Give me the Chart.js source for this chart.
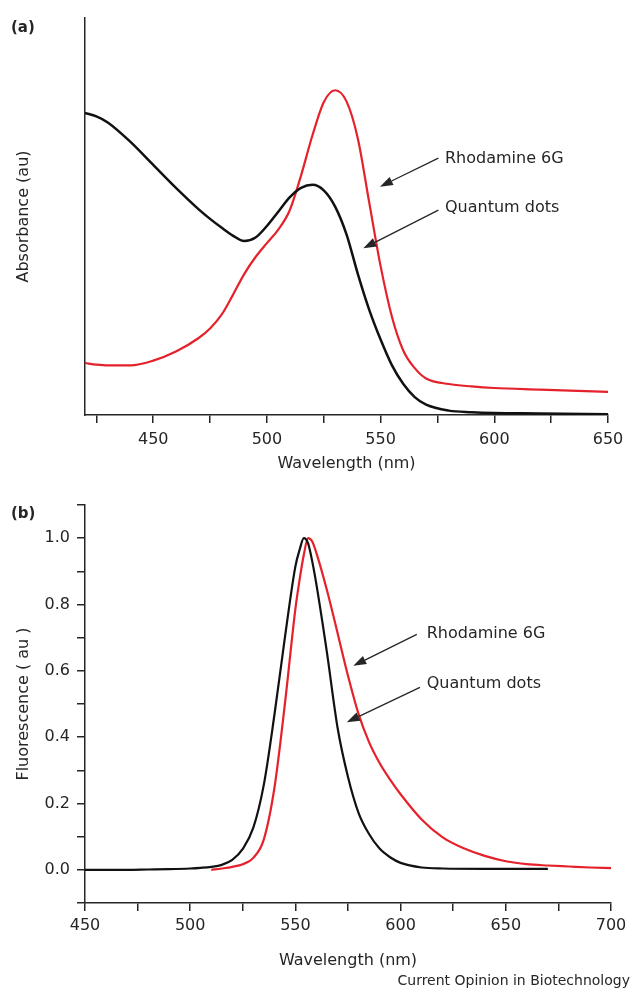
<!DOCTYPE html>
<html>
<head>
<meta charset="utf-8">
<title>Rhodamine 6G vs quantum dots: absorbance and fluorescence</title>
<script src="https://cdn.jsdelivr.net/npm/chart.js@4.4.1/dist/chart.umd.min.js"></script>
<style>
	html, body { margin: 0; padding: 0; background: #fff; }
	#page { position: relative; width: 633px; height: 992px; overflow: hidden; font-family: "DejaVu Sans", sans-serif; color: #262626; }
	canvas { position: absolute; left: 0; }
	#chart-absorbance { top: 0; }
	#chart-fluorescence { top: 480px; }
	.panel { position: absolute; left: 11px; font-size: 15px; font-weight: bold; line-height: 18px; }
	#credit { position: absolute; right: 3px; top: 972px; font-size: 14px; line-height: 17px; }
</style>
</head>
<body>
<div id="page">
	<canvas id="chart-absorbance" width="633" height="480"></canvas>
	<canvas id="chart-fluorescence" width="633" height="512"></canvas>
	<div class="panel" style="top: 18px">(a)</div>
	<div class="panel" style="top: 504px">(b)</div>
	<div id="credit">Current Opinion in Biotechnology</div>
</div>
<script>
// Panel (a) - absorbance, both traces on one wavelength grid (nm), arbitrary units
const ABS_NM = [420, 425, 430, 440, 450, 460, 470, 475, 480, 485, 490, 495, 500, 505, 510, 515, 520, 525, 530, 535, 540, 545, 550, 555, 560, 565, 570, 580, 590, 600, 620, 650];
const ABS_QDOTS = [0.761, 0.752, 0.737, 0.688, 0.630, 0.572, 0.518, 0.494, 0.472, 0.452, 0.438, 0.447, 0.476, 0.512, 0.548, 0.572, 0.580, 0.566, 0.525, 0.455, 0.355, 0.265, 0.190, 0.125, 0.078, 0.045, 0.026, 0.011, 0.007, 0.005, 0.004, 0.002];
const ABS_R6G = [0.131, 0.127, 0.125, 0.125, 0.137, 0.160, 0.194, 0.218, 0.252, 0.302, 0.355, 0.398, 0.433, 0.467, 0.515, 0.603, 0.704, 0.788, 0.818, 0.790, 0.696, 0.535, 0.375, 0.247, 0.162, 0.118, 0.092, 0.078, 0.072, 0.068, 0.064, 0.058];
const ABS_X_TICKS = [425, 450, 475, 500, 525, 550, 575, 600, 625, 650];

// Panel (b) - normalised fluorescence, each trace on its own grid
const FLUO_QDOTS_NM = [450, 470, 480, 490, 500, 505, 510, 515, 520, 525, 530, 535, 540, 545, 550, 552, 554, 556, 558, 560, 565, 570, 575, 580, 585, 590, 595, 600, 610, 620, 640, 670];
const FLUO_QDOTS = [0, 0, 0.001, 0.002, 0.004, 0.006, 0.009, 0.015, 0.030, 0.063, 0.127, 0.257, 0.466, 0.700, 0.915, 0.965, 1.0, 0.985, 0.930, 0.860, 0.655, 0.430, 0.280, 0.172, 0.108, 0.064, 0.038, 0.021, 0.007, 0.004, 0.003, 0.003];
const FLUO_R6G_NM = [510, 515, 520, 525, 530, 535, 540, 545, 550, 552, 554, 556, 558, 560, 565, 570, 575, 580, 585, 590, 595, 600, 610, 620, 630, 640, 650, 660, 670, 680, 690, 700];
const FLUO_R6G = [0, 0.004, 0.009, 0.017, 0.036, 0.092, 0.246, 0.500, 0.787, 0.875, 0.950, 1.0, 0.990, 0.955, 0.843, 0.715, 0.585, 0.470, 0.385, 0.322, 0.272, 0.228, 0.152, 0.098, 0.065, 0.042, 0.026, 0.017, 0.013, 0.010, 0.007, 0.005];
const FLUO_X_TICKS = [450, 475, 500, 525, 550, 575, 600, 625, 650, 675, 700];
const FLUO_Y_TICKS = [-0.1, 0, 0.1, 0.2, 0.3, 0.4, 0.5, 0.6, 0.7, 0.8, 0.9, 1.0, 1.1];

// Arrow labels, anchored in data units (wavelength, value)
const ABS_NOTES = [
	{ text: "Rhodamine 6G", textAt: [578.3, 0.644], from: [575.4, 0.647], to: [549.7, 0.575] },
	{ text: "Quantum dots", textAt: [578.3, 0.521], from: [575.4, 0.516], to: [542.4, 0.420] },
];
const FLUO_NOTES = [
	{ text: "Rhodamine 6G", textAt: [612.4, 0.711], from: [607.7, 0.710], to: [577.5, 0.615] },
	{ text: "Quantum dots", textAt: [612.4, 0.561], from: [609.2, 0.550], to: [574.4, 0.445] },
];

const INK = "#262626";
const RED = "#e5222b";
const BLACK = "#111111";
const AXIS_FONT = { family: "'DejaVu Sans', sans-serif", size: 16 };

const toPoints = (xs, ys) => xs.map((x, i) => ({ x, y: ys[i] }));

//---------------------------------------------------------
// Arrow + text annotations
//---------------------------------------------------------
const arrowNotes = {
	id: "arrowNotes",
	afterDatasetsDraw(chart, args, opts) {
		const { ctx, scales: { x, y } } = chart;
		ctx.save();
		ctx.strokeStyle = INK;
		ctx.fillStyle = INK;
		ctx.lineWidth = 1.3;
		ctx.font = "16px 'DejaVu Sans', sans-serif";
		ctx.textBaseline = "middle";
		ctx.textAlign = "left";
		opts.notes.forEach((note) => {
			const x0 = x.getPixelForValue(note.from[0]);
			const y0 = y.getPixelForValue(note.from[1]);
			const x1 = x.getPixelForValue(note.to[0]);
			const y1 = y.getPixelForValue(note.to[1]);
			const ang = Math.atan2(y1 - y0, x1 - x0);
			const head = 13;
			const half = 4.5;
			const bx = x1 - head * Math.cos(ang);
			const by = y1 - head * Math.sin(ang);
			ctx.beginPath();
			ctx.moveTo(x0, y0);
			ctx.lineTo(bx, by);
			ctx.stroke();
			ctx.beginPath();
			ctx.moveTo(x1, y1);
			ctx.lineTo(bx + half * Math.sin(ang), by - half * Math.cos(ang));
			ctx.lineTo(bx - half * Math.sin(ang), by + half * Math.cos(ang));
			ctx.closePath();
			ctx.fill();
			ctx.fillText(note.text, x.getPixelForValue(note.textAt[0]), y.getPixelForValue(note.textAt[1]));
		});
		ctx.restore();
	},
};

//---------------------------------------------------------
// Shared axis pieces
//---------------------------------------------------------
const AXIS_BORDER = { display: true, color: INK, width: 1.5 };
const TICK_GRID = { drawOnChartArea: false, drawTicks: true, tickLength: 8, color: INK, lineWidth: 1.5 };

const wavelengthAxis = (min, max, tickValues, height, labelPad, titlePad) => ({
	type: "linear",
	min,
	max,
	bounds: "data",
	border: AXIS_BORDER,
	grid: TICK_GRID,
	afterBuildTicks: (scale) => {
		scale.ticks = tickValues.map((value) => ({ value }));
	},
	afterFit: (scale) => {
		scale.height = height;
	},
	ticks: {
		autoSkip: false,
		maxRotation: 0,
		color: INK,
		font: AXIS_FONT,
		padding: labelPad,
		callback: (value) => (value % 50 === 0 ? String(value) : ""),
	},
	title: {
		display: true,
		text: "Wavelength (nm)",
		color: INK,
		font: AXIS_FONT,
		padding: { top: 0, bottom: titlePad },
	},
});

const lineSet = (label, points, color, width) => ({
	label,
	data: points,
	borderColor: color,
	borderWidth: width,
	pointRadius: 0,
	fill: false,
	cubicInterpolationMode: "monotone",
});

const baseOptions = {
	responsive: false,
	animation: false,
	events: [],
	plugins: {
		legend: { display: false },
		tooltip: { enabled: false },
	},
};

//---------------------------------------------------------
// (a) Absorbance
//---------------------------------------------------------
new Chart(document.getElementById("chart-absorbance"), {
	type: "line",
	data: {
		datasets: [
			lineSet("Quantum dots", toPoints(ABS_NM, ABS_QDOTS), BLACK, 2.5),
			lineSet("Rhodamine 6G", toPoints(ABS_NM, ABS_R6G), RED, 2.2),
		],
	},
	options: {
		...baseOptions,
		layout: { padding: { top: 18, right: 25, bottom: 0, left: 0 } },
		plugins: { ...baseOptions.plugins, arrowNotes: { notes: ABS_NOTES } },
		scales: {
			x: wavelengthAxis(420, 650, ABS_X_TICKS, 65, 7, 7),
			y: {
				type: "linear",
				min: 0,
				max: 1,
				border: AXIS_BORDER,
				grid: { display: false },
				ticks: { display: false },
				afterFit: (scale) => {
					scale.width = 85;
				},
				title: {
					display: true,
					text: "Absorbance (au)",
					color: INK,
					font: AXIS_FONT,
					padding: { top: 14, bottom: 0 },
				},
			},
		},
	},
	plugins: [arrowNotes],
});

//---------------------------------------------------------
// (b) Fluorescence
//---------------------------------------------------------
new Chart(document.getElementById("chart-fluorescence"), {
	type: "line",
	data: {
		datasets: [
			lineSet("Quantum dots", toPoints(FLUO_QDOTS_NM, FLUO_QDOTS), BLACK, 2.2),
			lineSet("Rhodamine 6G", toPoints(FLUO_R6G_NM, FLUO_R6G), RED, 2.2),
		],
	},
	options: {
		...baseOptions,
		layout: { padding: { top: 25, right: 22, bottom: 0, left: 0 } },
		plugins: { ...baseOptions.plugins, arrowNotes: { notes: FLUO_NOTES } },
		scales: {
			x: wavelengthAxis(450, 700, FLUO_X_TICKS, 89, 5, 22),
			y: {
				type: "linear",
				min: -0.1,
				max: 1.1,
				bounds: "data",
				border: AXIS_BORDER,
				grid: TICK_GRID,
				afterBuildTicks: (scale) => {
					scale.ticks = FLUO_Y_TICKS.map((value) => ({ value }));
				},
				afterFit: (scale) => {
					scale.width = 85;
				},
				ticks: {
					autoSkip: false,
					color: INK,
					font: AXIS_FONT,
					padding: 7,
					callback: (value) => {
						const tenths = Math.round(value * 10);
						return tenths % 2 === 0 && tenths >= 0 && tenths <= 10 ? (tenths / 10).toFixed(1) : "";
					},
				},
				title: {
					display: true,
					text: "Fluorescence ( au )",
					color: INK,
					font: AXIS_FONT,
					padding: { top: 14, bottom: 0 },
				},
			},
		},
	},
	plugins: [arrowNotes],
});
</script>
</body>
</html>
